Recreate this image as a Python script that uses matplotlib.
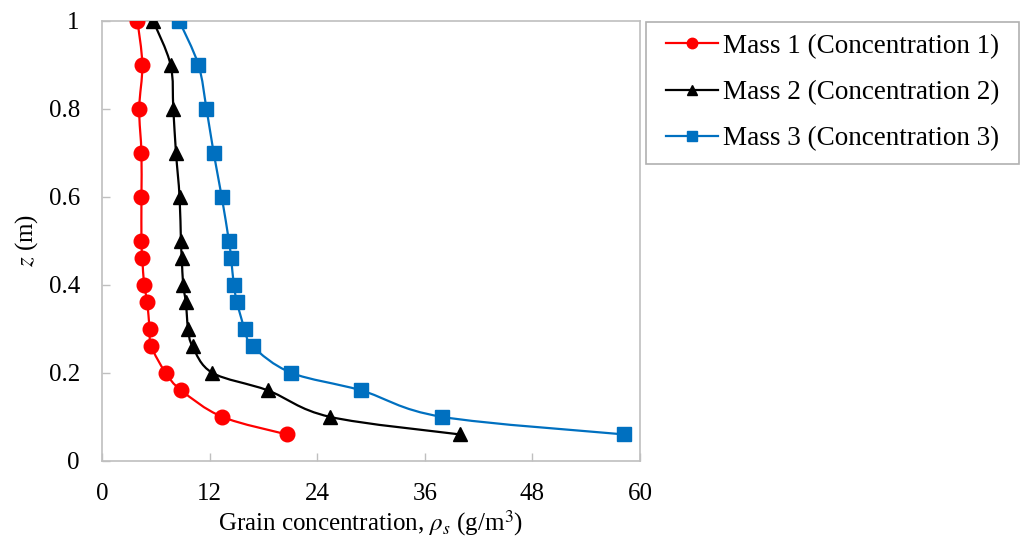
import matplotlib
matplotlib.use("Agg")
import matplotlib.pyplot as plt
import numpy as np
from matplotlib.path import Path
from matplotlib.patches import PathPatch, Rectangle
from matplotlib.lines import Line2D

# height above bed (m) and concentration profiles (g/m3)
z = [1.0, 0.9, 0.8, 0.7, 0.6, 0.5, 0.46, 0.4, 0.36, 0.3, 0.26, 0.2, 0.16, 0.1, 0.06]
mass1 = [3.95, 4.5, 4.15, 4.4, 4.4, 4.4, 4.5, 4.7, 5.05, 5.3, 5.5, 7.1, 8.85, 13.4, 20.6]
mass2 = [5.7, 7.65, 7.95, 8.25, 8.65, 8.8, 8.9, 9.05, 9.35, 9.6, 10.1, 12.3, 18.5, 25.4, 39.9]
mass3 = [8.6, 10.75, 11.65, 12.45, 13.35, 14.15, 14.4, 14.7, 15.05, 15.9, 16.8, 21.1, 28.9, 37.9, 58.2]

labels = ["Mass 1 (Concentration 1)", "Mass 2 (Concentration 2)", "Mass 3 (Concentration 3)"]
colors = ["#FF0000", "#000000", "#0070C0"]
markers = ["o", "^", "s"]
msizes = [10.5, 10.5, 10]

plt.rcParams["font.family"] = ["Liberation Serif", "DejaVu Serif"]
plt.rcParams["mathtext.fontset"] = "stix"
plt.rcParams["font.size"] = 18


def smooth_path(xs, ys):
    # cubic bezier through every point, like a spreadsheet "smoothed line"
    pts = np.column_stack([xs, ys]).astype(float)
    ext = np.vstack([pts[0], pts, pts[-1]])
    verts = [pts[0]]
    codes = [Path.MOVETO]
    for i in range(len(pts) - 1):
        p0, p1, p2, p3 = ext[i], ext[i + 1], ext[i + 2], ext[i + 3]
        c1 = p1 + (p2 - p0) / 6.0
        c2 = p2 - (p3 - p1) / 6.0
        verts += [c1, c2, p2]
        codes += [Path.CURVE4] * 3
    return Path(verts, codes)


fig = plt.figure(figsize=(10.25, 5.46), dpi=100)
ax = fig.add_axes([0.0995, 0.156, 0.525, 0.806])

handles = []
for xs, col, mk, ms, lab in zip([mass1, mass2, mass3], colors, markers, msizes, labels):
    ax.add_patch(PathPatch(smooth_path(xs, z), facecolor="none", edgecolor=col,
                           linewidth=1.6, zorder=2))
    ax.plot(xs, z, linestyle="none", marker=mk, markersize=ms, color=col, zorder=3)
    handles.append(Line2D([], [], color=col, linewidth=1.6, marker=mk, markersize=7.5,
                          label=lab))

ax.set_xlim(0, 60)
ax.set_ylim(0, 1)
ax.set_xticks([0, 12, 24, 36, 48, 60])
ax.set_yticks([0, 0.2, 0.4, 0.6, 0.8, 1])
ax.set_yticklabels(["0", "0.2", "0.4", "0.6", "0.8", "1"])
ax.tick_params(direction="in", length=6, width=1, color="#BFBFBF", labelsize=18)
ax.tick_params(axis="x", pad=16)
ax.tick_params(axis="y", pad=16)
for sp in ax.spines.values():
    sp.set_color("#BFBFBF")
    sp.set_linewidth(1.2)

ax.set_xlabel(r"Grain concentration, $\rho_s$ (g/m$^3$)", fontsize=18, labelpad=2)
ax.set_ylabel(r"$z$ (m)", fontsize=18, labelpad=6)

# legend box drawn separately so side and top padding can differ
fig.patches.append(Rectangle((0.6302, 0.6996), 0.3639, 0.2606, transform=fig.transFigure,
                             facecolor="white", edgecolor="#B0B0B0", linewidth=1.2,
                             zorder=1))
fig.legend(handles=handles, loc="upper left", bbox_to_anchor=(0.6498, 0.938),
           bbox_transform=fig.transFigure, fontsize=19.5, frameon=False,
           borderaxespad=0, borderpad=0, labelspacing=0.78,
           handlelength=1.9, handletextpad=0.2)

fig.savefig("out.png", dpi=100)
